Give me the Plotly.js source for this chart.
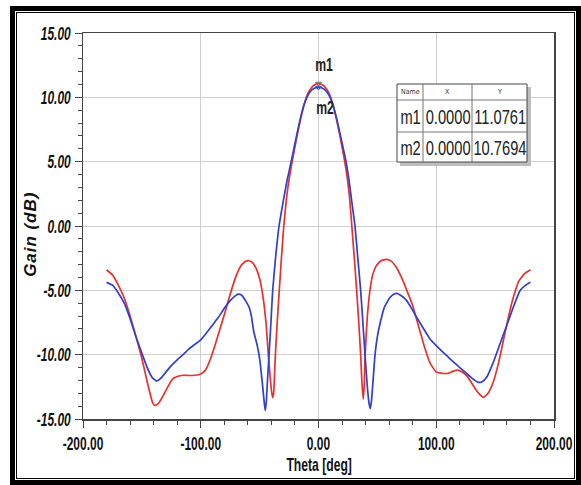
<!DOCTYPE html>
<html><head><meta charset="utf-8">
<script src="https://cdn.plot.ly/plotly-3.0.1.min.js"></script>
<style>
html,body{margin:0;padding:0;background:#fff;overflow:hidden;}
#chart{position:absolute;left:0;top:0;width:581px;height:485px;}
#frame{position:absolute;left:10px;top:6px;width:571px;height:479px;border:7px solid #000;box-sizing:border-box;pointer-events:none;}
#frame2{position:absolute;left:15px;top:11px;width:561px;height:469px;border:1px solid #fff;box-sizing:border-box;pointer-events:none;}
</style></head>
<body>
<div id="chart"></div>
<div id="frame"></div><div id="frame2"></div>
<script>
const redTheta = [-180,-175,-170,-165,-160,-155,-150,-145,-141,-139,-136,-132,-128,-124,-120,-115,-110,-105,-100,-96,-92,-88,-84,-80,-75,-70,-66,-62,-59,-56,-53,-50,-48,-46,-44.5,-42.6,-41,-39.8,-38.9,-38,-37.3,-36.5,-35,-33.3,-31.5,-29.5,-27,-24.5,-21.6,-18,-15,-12,-9,-6,-3,0,3,6,9,12,15,18,21.9,24.5,26.5,28.3,30.4,32.4,34.2,35.8,36.9,38,38.9,39.6,41.5,43.7,46,49,53,58,62,66,70,75,80,85,90,95,100,105,110,114,118,122,126,130,135,140,144,148.5,153,157,161,165,170,175,180];
const redGain = [-3.42,-3.8,-4.6,-5.6,-7.0,-8.6,-10.3,-12.3,-13.7,-13.95,-13.8,-13.2,-12.5,-11.9,-11.7,-11.6,-11.62,-11.6,-11.5,-11.2,-10.4,-9.3,-8.1,-6.9,-5.3,-3.9,-3.1,-2.75,-2.7,-2.85,-3.3,-4.1,-5.0,-6.3,-7.6,-10.0,-11.8,-12.9,-13.35,-12.9,-11.5,-9.8,-7.4,-5.0,-2.5,0,2.3,3.9,5.4,7.1,8.4,9.5,10.3,10.75,11.0,11.0761,11.0,10.75,10.3,9.5,8.4,7.1,5.2,3.7,2.1,0,-2.5,-5.0,-7.5,-10.0,-12.2,-13.45,-12.3,-10.0,-7.0,-5.0,-3.8,-3.1,-2.7,-2.6,-2.75,-3.2,-3.9,-5.0,-6.2,-7.8,-9.4,-10.7,-11.35,-11.45,-11.45,-11.3,-11.2,-11.35,-11.65,-12.2,-12.9,-13.32,-13.0,-12.1,-10.6,-8.9,-7.2,-5.7,-4.3,-3.7,-3.4];
const blueTheta = [-180,-175,-170,-165,-160,-155,-150,-145,-141,-137.4,-134,-130,-126,-120,-115,-110,-105,-100,-95,-90,-85,-80,-75,-71,-68,-65,-62,-59,-57,-55,-52,-49.7,-47.5,-46,-45.2,-44.3,-43.2,-42,-40.4,-38.9,-36.5,-33.5,-30,-27,-23.2,-18,-15,-12,-9,-6,-3,0,3,6,9,12,15,18,23.4,26,28.2,31,33.4,35.8,37.7,39.5,41.3,42.8,44,45.2,46.5,48,50,52.2,56,60.7,64,66.4,70,74.9,79,83.4,90,94.7,100,105,108.9,115,120,125,130,135.7,139,142.8,148,154.1,160,165.4,171.1,176,180];
const blueGain = [-4.38,-4.6,-5.2,-6.0,-7.2,-8.6,-9.9,-11.1,-11.8,-12.05,-11.85,-11.4,-10.95,-10.4,-10.0,-9.55,-9.2,-8.85,-8.3,-7.7,-7.1,-6.4,-5.8,-5.45,-5.3,-5.4,-5.8,-6.3,-7.0,-8.2,-9.3,-10.5,-12.4,-13.8,-14.35,-13.6,-11.8,-10.0,-7.5,-5.0,-2.5,0,1.9,3.4,5.0,7.3,8.5,9.5,10.15,10.55,10.72,10.7694,10.72,10.55,10.15,9.5,8.5,7.3,5.0,3.5,1.94,0,-2.5,-5.0,-7.5,-10.0,-12.3,-13.7,-14.2,-13.4,-11.8,-10.0,-8.6,-7.6,-6.3,-5.56,-5.3,-5.24,-5.4,-5.8,-6.4,-7.1,-8.1,-8.78,-9.3,-9.75,-10.08,-10.6,-11.0,-11.4,-11.8,-12.15,-12.1,-11.76,-10.7,-9.17,-7.7,-6.32,-5.03,-4.6,-4.38];

const markerNames = ['m1','m2'];
const markerX = [0.0, 0.0];
const markerY = [11.0761, 10.7694];
const tableHeader = ['Name','X','Y'];
const xTickVals = [-200,-100,0,100,200];
const yTickVals = [-15,-10,-5,0,5,10,15];
const xTitle = 'Theta [deg]';
const yTitle = 'Gain (dB)';

const SANS = 'Liberation Sans, Arial, sans-serif';
const COND = 'DejaVu Sans Condensed, sans-serif';

// plot area in pixels
const L = 83, R = 27, T = 33, B = 66, W = 581, H = 485;
const pw = W - L - R, ph = H - T - B;
const pxX = p => (p - L) / pw;
const pxY = p => (H - B - p) / ph;
const fmt2 = v => v.toFixed(2);

const traces = [
  {x: redTheta, y: redGain, type:'scatter', mode:'lines', line:{color:'#e8312f', width:1.7, shape:'spline', smoothing:0.4}, hoverinfo:'skip'},
  {x: blueTheta, y: blueGain, type:'scatter', mode:'lines', line:{color:'#2f3fd0', width:1.7, shape:'spline', smoothing:0.4}, hoverinfo:'skip'},
  {x: markerX, y: markerY, type:'scatter', mode:'markers', marker:{symbol:['triangle-down-open','triangle-down-open'], size:5, color:['#666','#2f3fd0'], line:{width:1}}, hoverinfo:'skip'}
];

// table geometry (pixels)
const tL = 397, tR = 527, tT = 84, tB = 162, hB = 100, r1B = 132, c1 = 423, c2 = 472;
const shapes = [
  {type:'rect', xref:'paper', yref:'paper', x0:pxX(tL+3), x1:pxX(tR+4), y0:pxY(tB+4), y1:pxY(tT+3), fillcolor:'#bdbdbd', line:{width:0}, layer:'above'},
  {type:'rect', xref:'paper', yref:'paper', x0:pxX(tL), x1:pxX(tR), y0:pxY(tB), y1:pxY(tT), fillcolor:'#fff', line:{color:'#444', width:1}, layer:'above'},
  {type:'line', xref:'paper', yref:'paper', x0:pxX(tL), x1:pxX(tR), y0:pxY(hB), y1:pxY(hB), line:{color:'#777', width:1}, layer:'above'},
  {type:'line', xref:'paper', yref:'paper', x0:pxX(tL), x1:pxX(tR), y0:pxY(r1B), y1:pxY(r1B), line:{color:'#777', width:1}, layer:'above'},
  {type:'line', xref:'paper', yref:'paper', x0:pxX(c1), x1:pxX(c1), y0:pxY(tB), y1:pxY(tT), line:{color:'#777', width:1}, layer:'above'},
  {type:'line', xref:'paper', yref:'paper', x0:pxX(c2), x1:pxX(c2), y0:pxY(tB), y1:pxY(tT), line:{color:'#777', width:1}, layer:'above'}
];

const colL = [tL, c1, c2], colR = [c1, c2, tR];
const colC = colL.map((l,i)=>(l+colR[i])/2);
const rowC = [(r1B+hB)/2, (r1B+tB)/2];
const annotations = [];
const annSqueeze = []; // [factor, mode]
function addAnn(a, f, mode){ annotations.push(a); annSqueeze.push([f, mode || 'scale']); }

tableHeader.forEach((h,i)=>addAnn({xref:'paper', yref:'paper', x:pxX(colC[i]), y:pxY((tT+hB)/2), text:h, showarrow:false, font:{family:COND, size:7, color:'#333'}, xanchor:'center', yanchor:'middle'}, 1));
markerNames.forEach((n,r)=>{
  const vals = [n, markerX[r].toFixed(4), markerY[r].toFixed(4)];
  vals.forEach((v,i)=>addAnn({xref:'paper', yref:'paper', x:pxX(colC[i]), y:pxY(rowC[r]), text:v, showarrow:false, font:{family:SANS, size:21, color:'#222'}, xanchor:'center', yanchor:'middle'}, 0.7));
});
// marker labels
addAnn({x:markerX[0], y:markerY[0], xref:'x', yref:'y', text:markerNames[0], showarrow:false, yshift:18, xshift:5, font:{family:SANS, size:18, color:'#222', weight:'bold'}}, 0.68);
addAnn({x:markerX[1], y:markerY[1], xref:'x', yref:'y', text:markerNames[1], showarrow:false, yshift:-21, xshift:6, font:{family:SANS, size:18, color:'#222', weight:'bold'}}, 0.68);
// axis titles
addAnn({xref:'paper', yref:'paper', x:pxX(319), y:pxY(464), text:xTitle, showarrow:false, xanchor:'center', yanchor:'middle', font:{family:SANS, size:19, color:'#111', weight:'bold'}}, 0.64);
addAnn({xref:'paper', yref:'paper', x:pxX(30), y:pxY(235), text:yTitle, textangle:-90, showarrow:false, xanchor:'center', yanchor:'middle', font:{family:SANS, size:17, color:'#111', weight:'bold', style:'italic'}}, 1.1, 'spacing');

const layout = {
  width: W, height: H,
  margin:{l:L, r:R, t:T, b:B, pad:0},
  paper_bgcolor:'#fff', plot_bgcolor:'#fff',
  showlegend:false,
  xaxis:{range:[-200,200], tickvals:xTickVals, ticktext:xTickVals.map(fmt2), ticks:'outside', ticklen:7, tickwidth:1, tickcolor:'#444',
    minor:{dtick:20, ticks:'outside', ticklen:4, tickcolor:'#444', showgrid:false}, ticklabeloverflow:'allow',
    showgrid:true, gridcolor:'#cfcfcf', gridwidth:1, zeroline:false, showline:true, linecolor:'#444', linewidth:1.5, mirror:true,
    tickfont:{family:SANS, size:19, color:'#111', weight:'bold'}, automargin:false},
  yaxis:{range:[-15,15], tickvals:yTickVals, ticktext:yTickVals.map(fmt2), ticks:'outside', ticklen:7, tickwidth:1, tickcolor:'#444',
    minor:{dtick:1, ticks:'outside', ticklen:4, tickcolor:'#444', showgrid:false}, ticklabeloverflow:'allow',
    showgrid:true, gridcolor:'#cfcfcf', gridwidth:1, zeroline:false, showline:true, linecolor:'#444', linewidth:1.5, mirror:true,
    tickfont:{family:SANS, size:19, color:'#111', weight:'bold', style:'italic'}, automargin:false},
  shapes, annotations
};

// horizontally condense a text element around its anchor x (keeps it real text)
function scaleX(el, f){
  const x = parseFloat(el.getAttribute('x')) || 0;
  const tr = el.getAttribute('transform') || '';
  el.setAttribute('transform', (tr + ' translate(' + x + ',0) scale(' + f + ',1) translate(' + (-x) + ',0)').trim());
}
function spread(el, f){
  const w = el.getComputedTextLength();
  if (!w) return;
  el.setAttribute('textLength', (w*f).toFixed(1));
  el.setAttribute('lengthAdjust', 'spacing');
}
Plotly.newPlot('chart', traces, layout, {staticPlot:true, displayModeBar:false}).then(gd=>{
  gd.querySelectorAll('.xtick text, .ytick text').forEach(el=>scaleX(el, 0.63));
  gd.querySelectorAll('g.annotation').forEach(g=>{
    const idx = +g.getAttribute('data-index');
    const t = g.querySelector('text.annotation-text');
    const s = annSqueeze[idx];
    if (!t || !s || s[0] === 1) return;
    if (s[1] === 'spacing') spread(t, s[0]); else scaleX(t, s[0]);
  });
});
</script>
</body></html>
